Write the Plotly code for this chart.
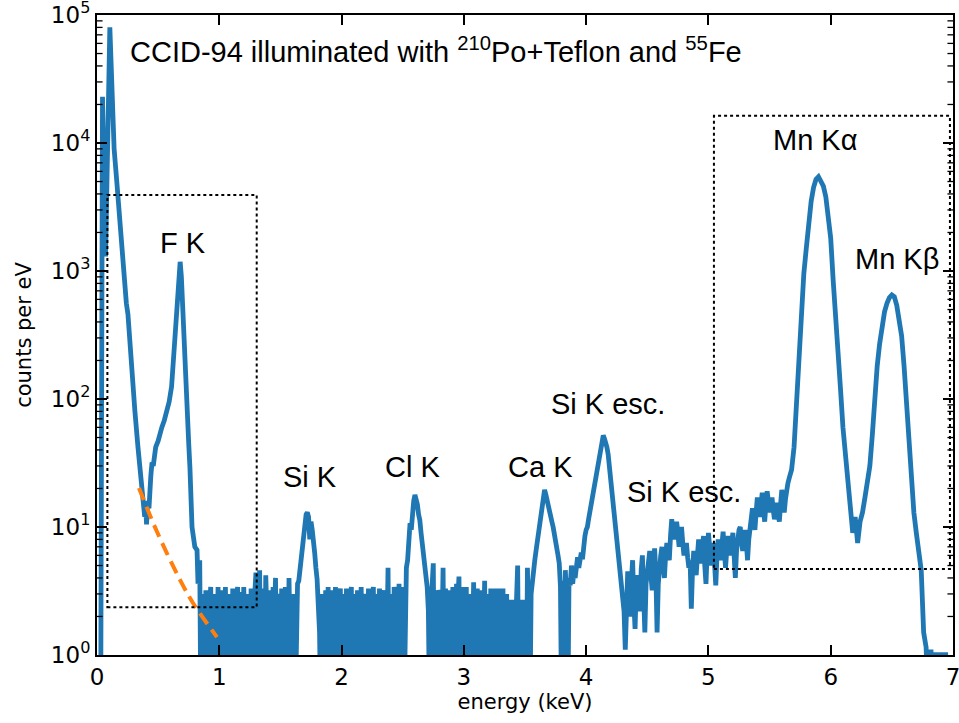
import plotly.graph_objects as go

# ---------------- data ----------------
# spectrum: energy (keV) and counts per eV, in pieces
energy_low = [0.000, 0.030, 0.045, 0.070, 0.105, 0.123, 0.140, 0.161, 0.180, 0.200,
              0.220, 0.240, 0.253, 0.270, 0.290, 0.310, 0.335, 0.350, 0.365, 0.380,
              0.390, 0.400, 0.405, 0.415, 0.425, 0.440, 0.450, 0.460, 0.480, 0.500,
              0.510, 0.530, 0.550, 0.570, 0.590, 0.610, 0.625, 0.640, 0.655, 0.668,
              0.680, 0.690, 0.700, 0.715, 0.736, 0.750, 0.760, 0.777, 0.800, 0.818,
              0.826]
counts_low = [0.3, 0.3, 23000, 1300, 80000, 21000, 9000, 5100, 2800, 1500,
              850, 560, 460, 250, 120, 80, 42, 28, 21, 15,
              12, 14, 10.5, 16, 14, 25, 32, 30, 42, 47,
              52, 60, 68, 78, 95, 125, 200, 330, 600, 950,
              1180, 900, 500, 200, 98, 45, 29, 10, 7, 6.6,
              3.6]

energy_noise1 = [0.84, 0.85, 0.86, 0.87, 0.88, 0.89, 0.90, 0.91, 0.92, 0.93,
                 0.94, 0.95, 0.96, 0.97, 0.98, 0.99, 1.00, 1.01, 1.02, 1.03,
                 1.04, 1.05, 1.06, 1.07, 1.08, 1.09, 1.10, 1.11, 1.12, 1.13,
                 1.14, 1.15, 1.16, 1.17, 1.18, 1.19, 1.20, 1.21, 1.22, 1.23,
                 1.24, 1.25, 1.26, 1.27, 1.28, 1.29, 1.30, 1.31, 1.32, 1.33,
                 1.34, 1.35, 1.36, 1.37, 1.38, 1.39, 1.40, 1.41, 1.42, 1.43,
                 1.44, 1.45, 1.46, 1.47, 1.48, 1.49, 1.50, 1.51, 1.52, 1.53,
                 1.54, 1.55, 1.56, 1.57, 1.58, 1.59, 1.60, 1.61, 1.62, 1.63,
                 1.64]
counts_noise1 = [5.5, 0.3, 3.0, 2.0, 0.3, 3.2, 1.4, 0.3, 2.4, 3.4,
                 0.3, 2.8, 3.0, 0.3, 1.8, 3.4, 0.3, 2.6, 3.2, 0.3,
                 2.0, 3.4, 1.2, 0.3, 3.0, 2.2, 0.3, 3.3, 1.6, 0.3,
                 2.8, 3.4, 0.3, 2.4, 3.1, 0.3, 3.4, 1.5, 0.3, 3.0,
                 2.2, 0.3, 3.3, 2.0, 0.3, 3.0, 4.4, 0.3, 3.4, 4.6,
                 0.3, 2.6, 3.3, 0.3, 4.2, 2.0, 0.3, 3.2, 2.4, 0.3,
                 3.4, 1.8, 4.0, 0.3, 3.0, 2.6, 0.3, 3.3, 2.0, 0.3,
                 3.4, 2.2, 0.3, 4.0, 1.4, 0.3, 3.0, 2.4, 0.3, 3.3,
                 3.6]

energy_si = [1.65, 1.66, 1.67, 1.68, 1.69, 1.70, 1.71, 1.72, 1.73, 1.74,
             1.75, 1.76, 1.77, 1.78, 1.79, 1.80, 1.81, 1.82]
counts_si = [3.8, 4.6, 5.5, 7.0, 9.0, 10.7, 12.5, 13.0, 12.0, 8.0,
             11.0, 9.5, 8.0, 6.3, 4.8, 3.9, 2.4, 1.5]

energy_noise2 = [1.83, 1.84, 1.85, 1.86, 1.87, 1.88, 1.89, 1.90, 1.91, 1.92,
                 1.93, 1.94, 1.95, 1.96, 1.97, 1.98, 1.99, 2.00, 2.01, 2.02,
                 2.03, 2.04, 2.05, 2.06, 2.07, 2.08, 2.09, 2.10, 2.11, 2.12,
                 2.13, 2.14, 2.15, 2.16, 2.17, 2.18, 2.19, 2.20, 2.21, 2.22,
                 2.23, 2.24, 2.25, 2.26, 2.27, 2.28, 2.29, 2.30, 2.31, 2.32,
                 2.33, 2.34, 2.35, 2.36, 2.37, 2.38, 2.39, 2.40, 2.41, 2.42,
                 2.43, 2.44, 2.45, 2.46, 2.47, 2.48, 2.49, 2.50, 2.51]
counts_noise2 = [0.3, 3.0, 2.2, 0.3, 3.2, 1.4, 3.4, 0.3, 2.6, 3.2,
                 0.3, 2.0, 3.4, 1.0, 0.3, 2.8, 3.3, 0.3, 2.2, 3.0,
                 0.3, 3.3, 1.6, 0.3, 2.4, 3.4, 0.3, 3.0, 2.0, 0.3,
                 3.2, 2.4, 0.3, 3.4, 1.2, 0.3, 3.0, 2.6, 0.3, 3.3,
                 2.0, 0.3, 2.6, 3.4, 0.3, 2.2, 3.0, 0.3, 3.3, 1.8,
                 0.3, 2.8, 3.2, 0.3, 2.4, 4.8, 0.3, 3.0, 2.2, 0.3,
                 3.4, 2.6, 0.3, 3.3, 3.6, 0.3, 2.8, 3.4, 0.3]

energy_cl = [2.52, 2.53, 2.54, 2.55, 2.56, 2.57, 2.58, 2.59, 2.60, 2.61,
             2.62, 2.63, 2.64, 2.65, 2.66, 2.67, 2.68, 2.69, 2.70, 2.71]
counts_cl = [3.9, 4.8, 5.5, 8.0, 10.7, 9.5, 14.0, 16.0, 17.8, 16.5,
             15.0, 12.5, 11.3, 9.0, 7.5, 6.5, 5.2, 4.2, 3.4, 2.2]

energy_noise3 = [2.72, 2.73, 2.74, 2.75, 2.76, 2.77, 2.78, 2.79, 2.80, 2.81,
                 2.82, 2.83, 2.84, 2.85, 2.86, 2.87, 2.88, 2.89, 2.90, 2.91,
                 2.92, 2.93, 2.94, 2.95, 2.96, 2.97, 2.98, 2.99, 3.00, 3.01,
                 3.02, 3.03, 3.04, 3.05, 3.06, 3.07, 3.08, 3.09, 3.10, 3.11,
                 3.12, 3.13, 3.14, 3.15, 3.16, 3.17, 3.18, 3.19, 3.20, 3.21,
                 3.22, 3.23, 3.24, 3.25, 3.26, 3.27, 3.28, 3.29, 3.30, 3.31,
                 3.32, 3.33, 3.34, 3.35, 3.36, 3.37, 3.38, 3.39, 3.40, 3.41,
                 3.42, 3.43, 3.44, 3.45, 3.46, 3.47, 3.48, 3.49, 3.50, 3.51,
                 3.52, 3.53, 3.54]
counts_noise3 = [0.3, 3.0, 3.4, 5.2, 0.3, 2.6, 0.3, 3.2, 3.0, 0.3,
                 2.0, 4.8, 0.3, 3.3, 2.2, 0.3, 3.2, 2.4, 0.3, 3.4,
                 1.6, 0.3, 3.6, 2.6, 4.1, 0.3, 2.8, 3.4, 0.3, 2.2,
                 3.4, 0.3, 2.6, 3.0, 0.3, 2.2, 3.7, 0.3, 2.8, 3.3,
                 0.3, 2.6, 3.2, 0.3, 2.0, 3.8, 0.3, 3.0, 1.6, 0.3,
                 3.3, 2.4, 0.3, 3.0, 3.3, 0.3, 2.2, 3.3, 0.3, 2.4,
                 3.3, 0.3, 2.6, 3.0, 0.3, 2.2, 2.7, 0.3, 2.7, 1.8,
                 0.3, 2.6, 5.0, 0.3, 2.2, 2.7, 0.3, 2.7, 2.0, 0.3,
                 4.8, 2.4, 0.3]

energy_ca = [3.55, 3.56, 3.57, 3.58, 3.59, 3.60, 3.61, 3.62, 3.63, 3.64,
             3.65, 3.66, 3.67, 3.68, 3.69, 3.70, 3.71, 3.72, 3.73, 3.74,
             3.75, 3.76, 3.77, 3.78, 3.79, 3.80, 3.81, 3.82, 3.83, 3.84,
             3.85, 3.86, 3.87, 3.88, 3.89, 3.90]
counts_ca = [3.0, 3.5, 4.6, 5.5, 6.5, 7.5, 9.0, 10.0, 11.5, 14.0,
             17.0, 19.5, 18.0, 16.0, 15.5, 14.0, 12.0, 11.0, 10.0, 9.0,
             8.0, 7.0, 6.0, 5.2, 3.4, 0.3, 3.8, 0.3, 4.6, 2.6,
             0.3, 4.0, 3.5, 5.0, 3.6, 4.5]

energy_esc = [3.91, 3.92, 3.93, 3.94, 3.95, 3.96, 3.97, 3.98, 3.99, 4.00,
              4.01, 4.02, 4.03, 4.04, 4.05, 4.06, 4.07, 4.08, 4.09, 4.10,
              4.11, 4.12, 4.13, 4.14, 4.15, 4.16, 4.17, 4.18, 4.19, 4.20,
              4.21, 4.22, 4.23, 4.24, 4.25, 4.26, 4.27, 4.28, 4.29, 4.30,
              4.31]
counts_esc = [4.0, 4.6, 5.8, 4.8, 6.0, 6.3, 5.6, 7.8, 8.5, 9.5,
              10.0, 11.5, 13.0, 16.0, 17.5, 20.0, 23.0, 27.0, 30.0, 33.0,
              38.0, 44.0, 50.0, 52.0, 49.0, 46.0, 42.0, 37.0, 30.0, 24.0,
              19.0, 15.0, 12.0, 9.5, 7.5, 6.3, 5.0, 4.5, 3.4, 3.2,
              2.2]

energy_mid = [4.32, 4.33, 4.34, 4.35, 4.36, 4.37, 4.38, 4.39, 4.40, 4.41,
              4.42, 4.43, 4.44, 4.45, 4.46, 4.47, 4.48, 4.49, 4.50, 4.51,
              4.52, 4.53, 4.54, 4.55, 4.56, 4.57, 4.58, 4.59, 4.60, 4.61,
              4.62, 4.63, 4.64, 4.65, 4.66, 4.67, 4.68, 4.69, 4.70, 4.71,
              4.72, 4.73, 4.74, 4.75, 4.76, 4.77, 4.78, 4.79, 4.80, 4.81,
              4.82, 4.83, 4.84, 4.85, 4.86, 4.87, 4.88, 4.89, 4.90, 4.91,
              4.92, 4.93, 4.94, 4.95, 4.96, 4.97, 4.98, 4.99, 5.00, 5.01,
              5.02, 5.03, 5.04, 5.05, 5.06, 5.07, 5.08, 5.09, 5.10, 5.11,
              5.12, 5.13, 5.14, 5.15, 5.16, 5.17, 5.18, 5.19, 5.20, 5.21,
              5.22, 5.23, 5.24, 5.25, 5.26, 5.27, 5.28, 5.29, 5.30, 5.31,
              5.32, 5.33, 5.34, 5.35, 5.36, 5.37, 5.38, 5.39, 5.40, 5.41,
              5.42, 5.43, 5.44, 5.45, 5.46, 5.47, 5.48, 5.49, 5.50, 5.51,
              5.52, 5.53, 5.54, 5.55, 5.56, 5.57, 5.58, 5.59, 5.60, 5.61,
              5.62, 5.63, 5.64, 5.65, 5.66]
counts_mid = [1.1, 3.0, 4.5, 2.4, 2.0, 3.8, 5.5, 2.6, 1.6, 3.4,
              4.2, 2.8, 2.2, 4.6, 6.0, 3.0, 1.5, 3.6, 4.8, 5.6,
              6.5, 4.2, 3.2, 5.0, 6.8, 4.4, 1.5, 3.6, 5.2, 6.0,
              7.0, 5.2, 4.0, 6.0, 7.5, 6.2, 5.5, 8.5, 11.5, 9.0,
              8.0, 10.0, 11.0, 9.0, 7.0, 8.5, 10.0, 7.5, 6.0, 6.8,
              7.5, 5.8, 4.8, 5.5, 2.3, 4.6, 6.5, 5.0, 4.2, 6.0,
              8.0, 6.2, 5.2, 7.0, 8.5, 5.0, 3.6, 6.5, 9.0, 7.0,
              5.0, 6.0, 7.5, 5.2, 3.5, 6.0, 8.0, 6.8, 5.5, 7.2,
              9.2, 6.5, 4.8, 6.6, 8.5, 7.0, 6.0, 7.5, 9.0, 6.0,
              4.0, 6.5, 8.5, 9.5, 10.0, 8.0, 6.5, 8.0, 9.5, 7.5,
              5.5, 8.0, 10.5, 12.0, 14.0, 11.5, 9.5, 13.0, 17.0, 14.5,
              12.0, 15.0, 18.5, 14.0, 11.0, 15.0, 19.0, 16.0, 13.0, 15.5,
              17.0, 13.5, 11.5, 13.0, 15.5, 12.5, 11.0, 15.0, 19.5, 16.0,
              13.0, 16.5, 20.0, 22.0, 24.0]

energy_mn = [5.68, 5.70, 5.72, 5.74, 5.76, 5.78, 5.80, 5.82, 5.84, 5.86,
             5.88, 5.90, 5.92, 5.94, 5.96, 5.98, 6.00, 6.02, 6.04, 6.06,
             6.08, 6.10, 6.12, 6.14, 6.16, 6.18, 6.20, 6.22, 6.24, 6.26,
             6.28, 6.30, 6.32, 6.34, 6.36, 6.38, 6.40, 6.42, 6.44, 6.46,
             6.48, 6.50, 6.52, 6.54, 6.56, 6.58, 6.60, 6.62, 6.64, 6.66,
             6.68, 6.70, 6.72, 6.74, 6.76, 6.78, 6.80, 6.82, 6.84, 6.86,
             6.88, 6.90, 6.92, 6.94, 6.96]
counts_mn = [28, 42, 95, 250, 520, 950, 1500, 2500, 3500, 4500,
             5200, 5450, 5100, 4600, 3800, 2800, 1800, 850, 480, 260,
             120, 60, 38, 24, 15, 9, 12, 7.5, 11, 13,
             17, 22, 30, 52, 110, 180, 270, 380, 480, 560,
             620, 650, 630, 540, 420, 310, 180, 90, 48, 26,
             13, 9, 6.5, 4.6, 1.5, 1.15, 0.3, 1.1, 0.3, 1.05,
             0.3, 1.05, 0.3, 1.05, 0.3]

# background model (dashed orange)
bkg_energy = [0.343, 0.488, 0.679, 0.785, 0.981]
bkg_counts = [20.2, 9.3, 3.86, 2.55, 1.38]

# peak labels (y given as log10 of counts per eV)
label_text = ["F K", "Si K", "Cl K", "Ca K", "Si K esc.", "Si K esc.", "Mn Kα", "Mn Kβ"]
label_energy = [0.703, 1.742, 2.584, 3.630, 4.178, 4.800, 5.871, 6.541]
label_log_counts = [3.22, 1.39, 1.469, 1.469, 1.96, 1.273, 4.02, 3.09]

# regions of interest (energy range, counts range)
roi_energy = [(0.085, 1.306), (5.045, 6.975)]
roi_counts = [(2.36, 3925), (4.7, 16300)]

# axis ticks
x_ticks = [0, 1, 2, 3, 4, 5, 6, 7]
y_ticks = [1, 10, 100, 1000, 10000, 100000]
y_ticktext = ["10<sup>0</sup>", "10<sup>1</sup>", "10<sup>2</sup>", "10<sup>3</sup>",
              "10<sup>4</sup>", "10<sup>5</sup>"]
y_minor = [m * d for d in [1, 10, 100, 1000, 10000] for m in range(2, 10)]

energy = (energy_low + energy_noise1 + energy_si + energy_noise2 + energy_cl +
          energy_noise3 + energy_ca + energy_esc + energy_mid + energy_mn)
counts = (counts_low + counts_noise1 + counts_si + counts_noise2 + counts_cl +
          counts_noise3 + counts_ca + counts_esc + counts_mid + counts_mn)

# ---------------- figure ----------------
BLUE = "#1f77b4"
ORANGE = "#ff7f0e"
TXT = "Liberation Sans, Arial, sans-serif"
TICKFONT = "DejaVu Sans, sans-serif"

fig = go.Figure()
fig.add_trace(go.Scatter(x=energy, y=counts, mode="lines",
                         line=dict(color=BLUE, width=4.8), showlegend=False))
fig.add_trace(go.Scatter(x=bkg_energy, y=bkg_counts, mode="lines",
                         line=dict(color=ORANGE, width=4, dash="13px,7px", shape="spline"),
                         showlegend=False))

for (e0, e1), (c0, c1) in zip(roi_energy, roi_counts):
    fig.add_shape(type="rect", xref="x", yref="y", x0=e0, x1=e1, y0=c0, y1=c1,
                  line=dict(color="black", width=2, dash="dot"), fillcolor="rgba(0,0,0,0)")

# inward tick marks drawn above the data, as matplotlib does (minor on both sides, major on left)
TICK_MINOR = 0.0065   # fraction of plot width (~5.5 px)
TICK_MAJOR = 0.0115   # ~10 px
for v in y_minor:
    for a, b in [(0.0, TICK_MINOR), (1.0 - TICK_MINOR, 1.0)]:
        fig.add_shape(type="line", xref="x domain", yref="y", x0=a, x1=b, y0=v, y1=v,
                      line=dict(color="black", width=1.3), layer="above")
for v in y_ticks[1:-1]:
    for a, b in [(0.0, TICK_MAJOR), (1.0 - TICK_MAJOR, 1.0)]:
        fig.add_shape(type="line", xref="x domain", yref="y", x0=a, x1=b, y0=v, y1=v,
                      line=dict(color="black", width=2), layer="above")

for t, e, lc in zip(label_text, label_energy, label_log_counts):
    fig.add_annotation(x=e, y=lc, xref="x", yref="y", text=t, showarrow=False,
                       font=dict(family=TXT, size=29, color="black"),
                       xanchor="center", yanchor="middle")

fig.add_annotation(x=0.25, y=4.727, xref="x", yref="y",
                   text="CCID-94 illuminated with <sup>210</sup>Po+Teflon and <sup>55</sup>Fe",
                   showarrow=False, font=dict(family=TXT, size=29, color="black"),
                   xanchor="left", yanchor="middle")

fig.update_xaxes(range=[0, 7], tickvals=x_ticks, automargin=False,
                 ticklabeloverflow="allow",
                 ticks="inside", ticklen=10, tickwidth=2, tickcolor="black",
                 showline=True, linecolor="black", linewidth=2, mirror="ticks",
                 showgrid=False, zeroline=False,
                 tickfont=dict(family=TICKFONT, size=23, color="black"),
                 title=dict(text="energy (keV)", font=dict(family=TICKFONT, size=21, color="black"),
                            standoff=4))
fig.update_yaxes(type="log", range=[0, 5], tickvals=y_ticks, ticktext=y_ticktext,
                 automargin=False, ticklabeloverflow="allow",
                 ticks="inside", ticklen=10, tickwidth=2, tickcolor="black",
                 showline=True, linecolor="black", linewidth=2, mirror="ticks",
                 showgrid=False, zeroline=False,
                 tickfont=dict(family=TICKFONT, size=23, color="black"),
                 title=dict(text="counts per eV", font=dict(family=TICKFONT, size=21, color="black"),
                            standoff=14))
fig.update_layout(width=959, height=723, plot_bgcolor="white", paper_bgcolor="white",
                  margin=dict(l=97, r=6, t=15, b=68))

fig.write_html("out.html", config={"displayModeBar": False},
               post_script="document.body.style.margin='0px';")
